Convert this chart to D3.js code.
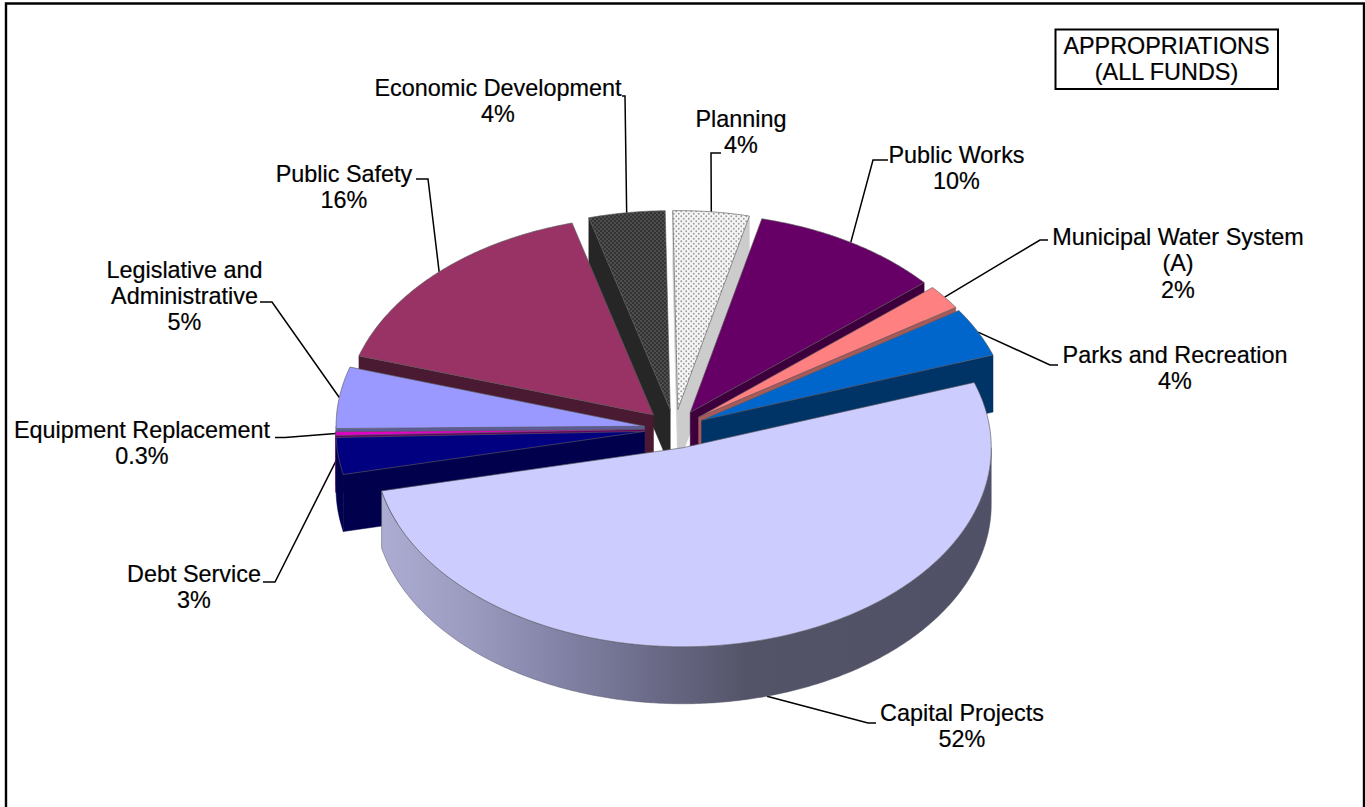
<!DOCTYPE html>
<html>
<head>
<meta charset="utf-8">
<title>Appropriations (All Funds)</title>
<script src="https://cdn.jsdelivr.net/npm/d3@7"></script>
<style>
  html, body { margin: 0; padding: 0; background: #fff; }
  svg { display: block; }
  text { font-family: "Liberation Sans", Arial, sans-serif; font-size: 23.4px; fill: #000; stroke: #000; stroke-width: 0.2px; }
</style>
</head>
<body>
<svg id="chart" width="1365" height="807"></svg>
<script>
// Share of appropriations by function, clockwise from twelve o'clock.
const categories = ["Planning", "Public Works", "Municipal Water System (A)", "Parks and Recreation",
  "Capital Projects", "Debt Service", "Equipment Replacement", "Legislative and Administrative",
  "Public Safety", "Economic Development"];
const percents = [4, 10, 2, 4, 52, 3, 0.3, 5, 16, 4];
const percentText = ["4%", "10%", "2%", "4%", "52%", "3%", "0.3%", "5%", "16%", "4%"];
const labelLines = [["Planning"], ["Public Works"], ["Municipal Water System", "(A)"], ["Parks and Recreation"],
  ["Capital Projects"], ["Debt Service"], ["Equipment Replacement"], ["Legislative and", "Administrative"],
  ["Public Safety"], ["Economic Development"]];
const topFills = ["url(#dotsLight)", "#660066", "#ff8080", "#0066cc", "#ccccff", "#000080", "#e000c8",
  "#9999ff", "#993366", "url(#dotsDark)"];
const wallFills = ["#cccccc", "#3d003d", "#a85a5a", "#003366", "url(#capitalWall)", "#00004d", "#660066",
  "#5c5c99", "#4a1a33", "#262626"];

// Label placement: centre x, first baseline, and the elbow of the leader line.
const labelX = [741, 956.5, 1178, 1175, 962, 194, 142, 184.5, 344, 498];
const labelY = [127, 163, 245, 363, 721, 582, 437.5, 277.5, 182, 96];
const elbowX = [[721, 711], [888, 873], [1048, 1040], [1058, 1050], [876, 868], [263, 275], [275, 285], [260, 272], [416, 428], [622, 625]];
const elbowY = [153, 160, 240, 365, 723, 582, 437.5, 302, 179, 96];

// Back-to-front painting order, as indexes into the arrays above.
const paintOrder = [9, 0, 8, 1, 7, 2, 3, 6, 5, 4];

// Pie geometry: tilted disc seen as an ellipse, slices pulled out radially.
const cx = 674.5, cy = 429, rx = 308.5, ry = 199, depth = 57, explode = 0.098;
const firstAngle = -0.94 * Math.PI / 180;

const svg = d3.select("#chart");
const lineWidth = 0.8;

const pie = d3.pie().sort(null).value(d => d)
  .startAngle(firstAngle).endAngle(firstAngle + 2 * Math.PI);
const arcs = pie(percents);

const sx = d3.scaleLinear().domain([-1, 1]).range([cx - rx, cx + rx]);
const sy = d3.scaleLinear().domain([-1, 1]).range([cy - ry, cy + ry]);

// Ground-plane point at polar position (radius r, clockwise angle a) of a slice.
function groundPoint(arc, r, a) {
  const mid = (arc.startAngle + arc.endAngle) / 2;
  const gx = explode * Math.sin(mid) + r * Math.sin(a);
  const gy = -explode * Math.cos(mid) - r * Math.cos(a);
  return [sx(gx), sy(gy)];
}
const sink = (p, h) => [p[0], p[1] + h];
const closed = d3.line().curve(d3.curveLinearClosed);

function rimPoints(arc, a0, a1) {
  const n = Math.max(2, Math.ceil((a1 - a0) / 0.01));
  return d3.range(n + 1).map(i => groundPoint(arc, 1, a0 + (a1 - a0) * i / n));
}

// Fills: two stippled textures and the shaded rim of the large slice.
const defs = svg.append("defs");
function stipple(id, bg, dot, size, r) {
  const p = defs.append("pattern").attr("id", id).attr("patternUnits", "userSpaceOnUse")
    .attr("width", size).attr("height", size);
  p.append("rect").attr("width", size).attr("height", size).attr("fill", bg);
  [[size / 4, size / 4], [3 * size / 4, 3 * size / 4]].forEach(c =>
    p.append("circle").attr("cx", c[0]).attr("cy", c[1]).attr("r", r).attr("fill", dot));
}
stipple("dotsLight", "#f5f5f5", "#9a9a9a", 5, 0.9);
stipple("dotsDark", "#333333", "#707070", 4, 0.8);

const wallShade = defs.append("linearGradient").attr("id", "capitalWall")
  .attr("gradientUnits", "userSpaceOnUse")
  .attr("x1", 379).attr("x2", 990).attr("y1", 0).attr("y2", 0);
[[0, "#adadd3"], [0.15, "#9b9bc0"], [0.3, "#8282a6"], [0.45, "#6a6a88"], [0.6, "#545469"], [1, "#505066"]]
  .forEach(s => wallShade.append("stop").attr("offset", s[0]).attr("stop-color", s[1]));

// Frame, open along the bottom edge.
svg.append("path")
  .attr("d", d3.line()([[6, 807], [6, 3.5], [1364, 3.5], [1364, 807]]))
  .attr("fill", "none").attr("stroke", "#000").attr("stroke-width", 2.4);

// Leader lines run under the slices so they stop at the rim.
const leaders = svg.append("g").attr("fill", "none").attr("stroke", "#000").attr("stroke-width", 1.5);
arcs.forEach((arc, i) => {
  const mid = (arc.startAngle + arc.endAngle) / 2;
  const tip = sink(groundPoint(arc, 1, mid), i === 4 ? depth : 0);
  leaders.append("path").attr("d", d3.line()([
    [elbowX[i][0], elbowY[i]], [elbowX[i][1], elbowY[i]], tip
  ]));
});

// Slices, painted back to front.
const slices = svg.append("g").attr("stroke-linejoin", "round");
paintOrder.forEach(i => {
  const arc = arcs[i];
  const g = slices.append("g");
  const a0 = arc.startAngle, a1 = arc.endAngle;
  const apex = groundPoint(arc, 0, a0);
  const wall = poly => g.append("path").attr("d", closed(poly)).attr("fill", wallFills[i])
    .attr("stroke", wallFills[i]).attr("stroke-width", 0.5);

  // Radial cut faces that turn towards the viewer.
  if (Math.sin(a1) > 0) {
    const e = groundPoint(arc, 1, a1);
    wall([apex, e, sink(e, depth), sink(apex, depth)]);
  }
  if (Math.sin(a0) < 0) {
    const e = groundPoint(arc, 1, a0);
    wall([apex, e, sink(e, depth), sink(apex, depth)]);
  }
  // Outer rim, only on the front half of the disc.
  const f0 = Math.max(a0, Math.PI / 2), f1 = Math.min(a1, 3 * Math.PI / 2);
  if (f1 > f0) {
    const rim = rimPoints(arc, f0, f1);
    wall(rim.concat(rim.slice().reverse().map(p => sink(p, depth))))
      .attr("stroke", i === 4 ? "#55556a" : wallFills[i]);
  }
  // Top face.
  g.append("path")
    .attr("d", closed([apex].concat(rimPoints(arc, a0, a1))))
    .attr("fill", topFills[i])
    .attr("stroke", "#5a5a5a").attr("stroke-opacity", 0.8).attr("stroke-width", lineWidth);
});

// Category and percentage labels.
const labels = svg.append("g").attr("text-anchor", "middle");
const leading = 26.4;
categories.forEach((name, i) => {
  const lines = labelLines[i].concat(percentText[i]);
  lines.forEach((line, k) => {
    labels.append("text").attr("x", labelX[i]).attr("y", labelY[i] + k * leading).text(line);
  });
});

// Title box.
svg.append("rect").attr("x", 1055.5).attr("y", 29.5).attr("width", 222.5).attr("height", 59.5)
  .attr("fill", "#fff").attr("stroke", "#000").attr("stroke-width", 2);
const titleLines = ["APPROPRIATIONS", "(ALL FUNDS)"];
titleLines.forEach((t, k) => {
  svg.append("text").attr("x", 1166.5).attr("y", 54 + k * 26).attr("text-anchor", "middle").text(t);
});
</script>
</body>
</html>
